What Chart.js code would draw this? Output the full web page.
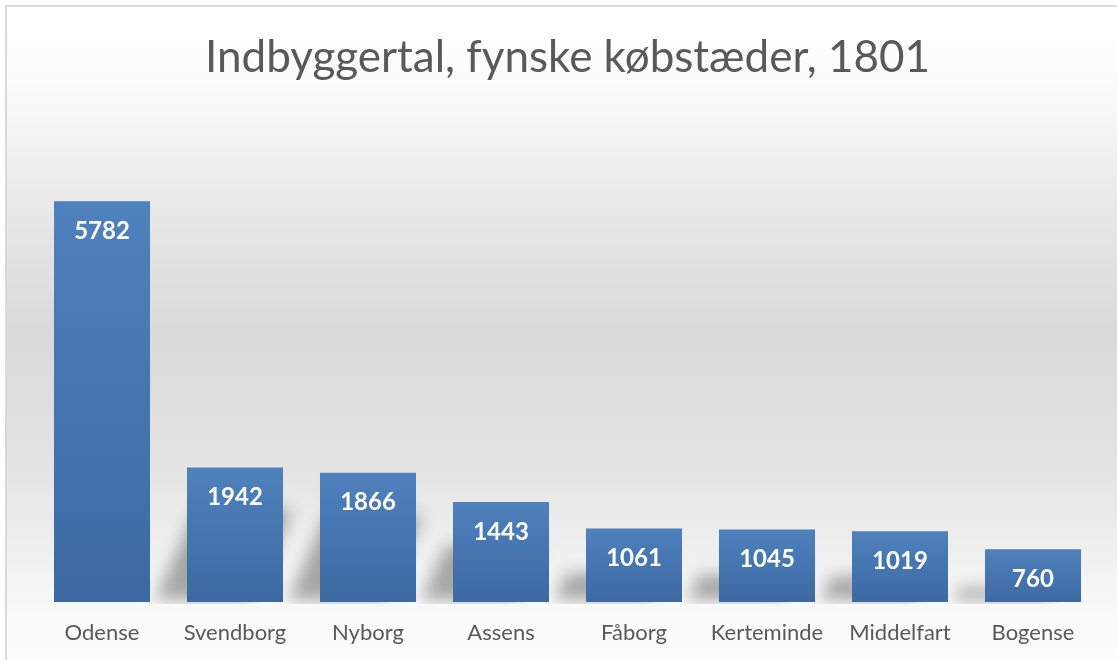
<!DOCTYPE html>
<html>
<head>
<meta charset="utf-8">
<script src="https://cdn.jsdelivr.net/npm/chart.js@4/dist/chart.umd.min.js"></script>
<style>
  html, body { margin: 0; padding: 0; background: #fff; }
  #wrap { width: 1117px; height: 660px; position: relative; }
</style>
</head>
<body>
<div id="wrap"><canvas id="chart" width="1117" height="660"></canvas></div>
<script>
var towns = ['Odense', 'Svendborg', 'Nyborg', 'Assens', 'Fåborg', 'Kerteminde', 'Middelfart', 'Bogense'];
var population = [5782, 1942, 1866, 1443, 1061, 1045, 1019, 760];
var titleText = 'Indbyggertal, fynske købstæder, 1801';

var textGrey = '#595959';

// gray gradient background + thin border at the top/left like the excel frame
var backdrop = {
  id: 'backdrop',
  beforeDraw: function (chart) {
    var ctx = chart.ctx;
    var g = ctx.createLinearGradient(0, 5, 0, chart.height);
    g.addColorStop(0, '#ffffff');
    g.addColorStop(0.12, '#fbfbfb');
    g.addColorStop(0.3, '#e9e9e9');
    g.addColorStop(0.5, '#d9d9d9');
    g.addColorStop(0.7, '#e3e3e3');
    g.addColorStop(0.85, '#f1f1f1');
    g.addColorStop(0.93, '#fafafa');
    g.addColorStop(1, '#fcfcfc');
    ctx.save();
    ctx.fillStyle = '#ffffff';
    ctx.fillRect(0, 0, chart.width, chart.height);
    ctx.fillStyle = g;
    ctx.fillRect(5, 5, chart.width - 5, chart.height - 5);
    ctx.fillStyle = '#d9d9d9';
    ctx.fillRect(5, 5, chart.width - 5, 2);
    ctx.fillRect(5, 5, 2, chart.height - 5);
    ctx.restore();
  }
};

// soft perspective shadow falling back-left of each bar
// (shape drawn off-canvas, only its blurred shadow lands on the chart)
var barShadows = {
  id: 'barShadows',
  beforeDatasetsDraw: function (chart) {
    var ctx = chart.ctx;
    var area = chart.chartArea;
    var bars = chart.getDatasetMeta(0).data;
    var off = 3000;
    ctx.save();
    ctx.beginPath();
    ctx.rect(area.left - 40, area.top, area.right - area.left + 80, area.bottom - area.top + 2);
    ctx.clip();
    ctx.shadowColor = 'rgba(0,0,0,0.32)';
    ctx.shadowBlur = 16;
    ctx.shadowOffsetX = off;
    ctx.fillStyle = '#000';
    bars.forEach(function (bar) {
      var h = bar.base - bar.y;
      if (h > 300) return; // the tall bar's shadow is hidden in the original
      var x0 = bar.x - bar.width / 2 - off;
      var x1 = bar.x + bar.width / 2 - off;
      var sh = Math.max(14, Math.min(92, 1.03 * h - 47));
      var shift = -32 + 0.45 * sh;
      ctx.beginPath();
      ctx.moveTo(x0 - 32, bar.base - 2);
      ctx.lineTo(x1 - 32, bar.base - 2);
      ctx.lineTo(x1 + shift, bar.base - sh);
      ctx.lineTo(x0 + shift, bar.base - sh);
      ctx.closePath();
      ctx.fill();
    });
    ctx.restore();
  }
};

// white value labels inside the top of each bar
var valueLabels = {
  id: 'valueLabels',
  afterDatasetsDraw: function (chart) {
    var ctx = chart.ctx;
    var bars = chart.getDatasetMeta(0).data;
    ctx.save();
    ctx.fillStyle = '#ffffff';
    ctx.font = 'bold 24px Lato';
    ctx.textAlign = 'center';
    ctx.textBaseline = 'middle';
    bars.forEach(function (bar, i) {
      ctx.fillText(String(population[i]), bar.x, bar.y + 30);
    });
    ctx.restore();
  }
};

function barGradient(context) {
  var chart = context.chart;
  var y = chart.scales.y;
  if (!chart.chartArea || !y) return '#4a7bb7';
  var v = population[context.dataIndex];
  var top = y.getPixelForValue(v);
  var base = y.getPixelForValue(0);
  var g = chart.ctx.createLinearGradient(0, top, 0, base);
  g.addColorStop(0, '#4f81bd');
  g.addColorStop(1, '#3c69a2');
  return g;
}

new Chart(document.getElementById('chart'), {
  type: 'bar',
  data: {
    labels: towns,
    datasets: [{
      data: population,
      backgroundColor: barGradient,
      borderWidth: 0,
      categoryPercentage: 1,
      barPercentage: 0.722
    }]
  },
  options: {
    responsive: false,
    animation: false,
    layout: { padding: { left: 35.5, right: 17.5, top: 0, bottom: 15 } },
    plugins: {
      legend: { display: false },
      tooltip: { enabled: false },
      title: {
        display: true,
        text: titleText,
        color: textGrey,
        font: { family: 'Lato', size: 44, weight: 'normal' },
        padding: { top: 31, bottom: 33 }
      }
    },
    scales: {
      x: {
        grid: { display: false },
        border: { display: false },
        ticks: {
          color: textGrey,
          font: { family: 'Lato', size: 22 },
          padding: 10
        },
        afterFit: function (scale) { scale.height = 43; }
      },
      y: {
        display: false,
        min: 0,
        max: 7000
      }
    }
  },
  plugins: [backdrop, barShadows, valueLabels]
});
</script>
</body>
</html>
